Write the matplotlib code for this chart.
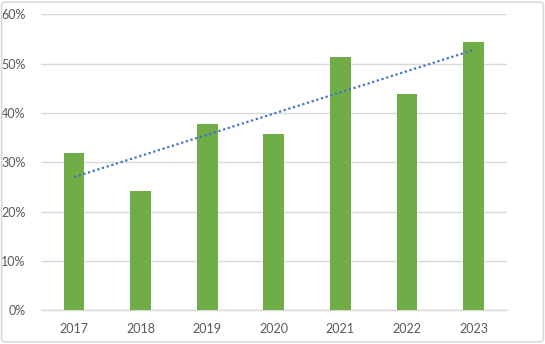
import matplotlib
matplotlib.use("Agg")
import matplotlib.pyplot as plt
import numpy as np
from matplotlib.patches import FancyBboxPatch

years = ["2017", "2018", "2019", "2020", "2021", "2022", "2023"]
values = [32.0, 24.1, 37.8, 35.8, 51.3, 43.9, 54.4]
yticks = [0, 10, 20, 30, 40, 50, 60]
ytick_labels = ["0%", "10%", "20%", "30%", "40%", "50%", "60%"]

plt.rcParams['font.family'] = ['Lato', 'DejaVu Sans']

fig = plt.figure(figsize=(5.45, 3.44), dpi=100)
ax = fig.add_axes([0.0747, 0.098, 0.8553, 0.860])

x = np.arange(len(years))
ax.bar(x, values, width=0.31, color="#70ad47", zorder=3)

coef = np.polyfit(x, values, 1)
trend = np.polyval(coef, x)
ax.plot(x, trend, color="#4472c4", linestyle=(0, (1, 1.2)), linewidth=1.6, zorder=4)

ax.set_xlim(-0.5, len(years) - 0.5)
ax.set_ylim(0, 60)
ax.set_yticks(yticks)
ax.set_yticklabels(ytick_labels)
ax.set_xticks(x)
ax.set_xticklabels(years)
ax.grid(axis="y", color="#d9d9d9", linewidth=1, zorder=0)
for s in ["top", "right", "left"]:
    ax.spines[s].set_visible(False)
ax.spines["bottom"].set_color("#d9d9d9")
ax.spines["bottom"].set_linewidth(1)
ax.tick_params(axis="both", length=0, labelsize=9, colors="#595959")
ax.tick_params(axis="y", pad=11)
ax.tick_params(axis="x", pad=9)

border = FancyBboxPatch((0.003, 0.006), 0.994, 0.988, boxstyle="round,pad=0,rounding_size=0.008",
                        transform=fig.transFigure, facecolor="none", edgecolor="#d9d9d9",
                        linewidth=1.2, zorder=10)
fig.patches.append(border)

fig.savefig("out.png", dpi=100)
